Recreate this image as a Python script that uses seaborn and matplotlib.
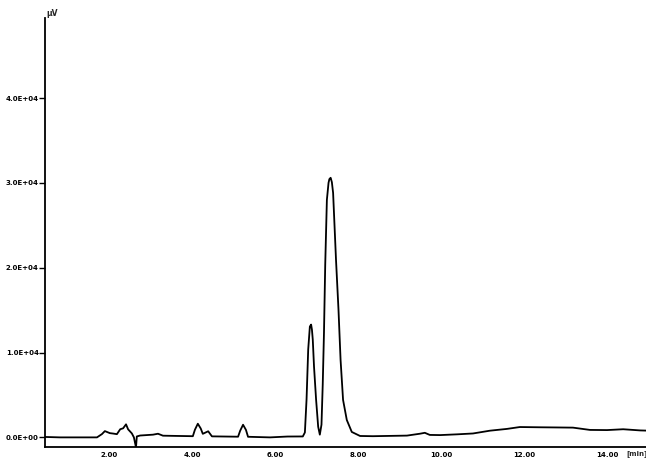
import matplotlib
matplotlib.use("Agg")
import matplotlib.pyplot as plt
import seaborn as sns
import pandas as pd

# Retention time (min) and detector signal (µV)
time_min = [0.46, 0.82, 1.71, 1.83, 1.90, 2.02, 2.10, 2.19, 2.27, 2.34,
            2.41, 2.46, 2.55, 2.60, 2.65, 2.67, 2.75, 3.06, 3.18, 3.30,
            3.64, 4.02, 4.07, 4.14, 4.21, 4.26, 4.39, 4.48, 5.11, 5.16,
            5.23, 5.30, 5.35, 5.88, 6.30, 6.67, 6.72, 6.76, 6.80, 6.84,
            6.87, 6.89, 6.91, 6.94, 6.99, 7.04, 7.08, 7.12, 7.15, 7.18,
            7.21, 7.25, 7.29, 7.31, 7.34, 7.37, 7.40, 7.47, 7.53, 7.58,
            7.64, 7.73, 7.85, 8.05, 8.36, 9.18, 9.49, 9.61, 9.73, 9.98,
            10.39, 10.77, 11.18, 11.59, 11.90, 12.39, 12.80, 13.18, 13.59, 14.00,
            14.39, 14.80, 14.94]
signal_uv = [50, 0, 0, 390, 740, 500, 450, 380, 960, 1070,
             1540, 950, 470, 0, -1190, 110, 220, 320, 430, 200,
             170, 140, 900, 1610, 1050, 420, 720, 120, 80, 780,
             1490, 880, 70, 0, 100, 110, 580, 4470, 10370, 13070,
             13300, 12700, 11530, 8350, 4450, 1260, 320, 1500, 6210, 12330,
             20350, 28010, 30020, 30450, 30610, 30100, 28830, 20930, 15030, 9140,
             4420, 2050, 640, 165, 140, 210, 430, 540, 290, 270,
             360, 460, 790, 1000, 1220, 1190, 1170, 1150, 880, 860,
             960, 820, 800]

y_ticks = [0, 10000, 20000, 30000, 40000]
y_tick_labels = ["0.0E+00", "1.0E+04", "2.0E+04", "3.0E+04", "4.0E+04"]
x_ticks = [2, 4, 6, 8, 10, 12, 14]
x_tick_labels = ["2.00", "4.00", "6.00", "8.00", "10.00", "12.00", "14.00"]

df = pd.DataFrame({"time": time_min, "signal": signal_uv})

sns.set_style("white")
plt.rcParams["font.family"] = ["DejaVu Sans"]

fig = plt.figure(figsize=(6.46, 4.59), dpi=100)
ax = fig.add_axes([0.0697, 0.0253, 0.9303, 0.9347])

sns.lineplot(data=df, x="time", y="signal", ax=ax, color="black",
             linewidth=1.3, estimator=None)

ax.set_xlim(0.458, 14.94)
ax.set_ylim(-1180, 49410)

ax.set_yticks(y_ticks)
ax.set_yticklabels(y_tick_labels, fontsize=5, fontweight="bold")
ax.set_xticks(x_ticks)
ax.set_xticklabels(x_tick_labels, fontsize=5, fontweight="bold")
ax.tick_params(axis="y", direction="out", length=4, width=1, pad=0.5,
               colors="black", left=True)
ax.tick_params(axis="x", direction="out", length=0, width=1, pad=3,
               colors="black", bottom=True)

for side in ["top", "right"]:
    ax.spines[side].set_visible(False)
for side in ["left", "bottom"]:
    ax.spines[side].set_color("black")
    ax.spines[side].set_linewidth(1.3)

ax.set_xlabel("")
ax.set_ylabel("")

ax.text(0.003, 1.0, "µV", transform=ax.transAxes, fontsize=5.5,
        fontweight="bold", ha="left", va="bottom")
ax.text(0.985, -0.007, "[min]", transform=ax.transAxes, fontsize=5,
        fontweight="bold", ha="center", va="top")

fig.savefig("out.png", dpi=100)
